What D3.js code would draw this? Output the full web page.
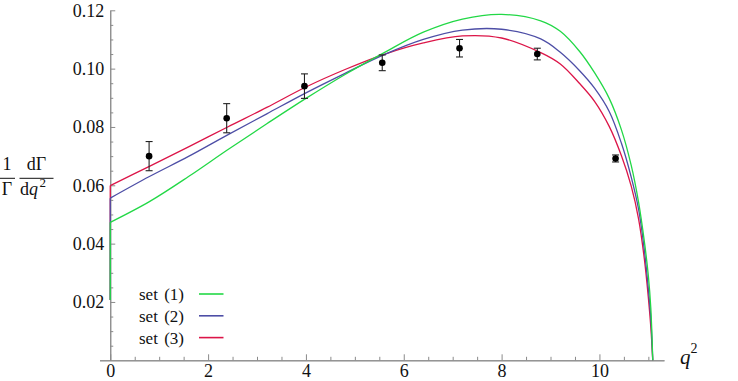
<!DOCTYPE html>
<html>
<head>
<meta charset="utf-8">
<script src="https://cdn.jsdelivr.net/npm/d3@7"></script>
<style>
  body { margin: 0; background: #fff; }
  svg { display: block; font-family: "Liberation Serif", "Times New Roman", serif; }
  svg text { font-family: "Liberation Serif", "Times New Roman", serif; }
</style>
</head>
<body>
<svg class="chart"></svg>
<script>
const width = 738;
const height = 381;

// curve samples (q^2, value)
const qGrid = [0, 0.8, 1.6, 2.4, 3.2, 4.0, 4.8, 5.6, 6.4, 7.2, 8.0, 8.8, 9.2, 9.6, 9.9, 10.2, 10.45, 10.65, 10.8, 10.92, 11.0, 11.05, 11.09];
const set1 = [0.0473, 0.0544, 0.0630, 0.0722, 0.0811, 0.0898, 0.0980, 0.1055, 0.1125, 0.1170, 0.1186, 0.1164, 0.1128, 0.1058, 0.0986, 0.0898, 0.0790, 0.0668, 0.0542, 0.0405, 0.0290, 0.0180, 0];
const set2 = [0.0556, 0.0630, 0.0699, 0.0773, 0.0845, 0.0917, 0.0984, 0.1048, 0.1100, 0.1132, 0.1135, 0.1102, 0.1056, 0.0992, 0.0933, 0.0853, 0.0744, 0.0628, 0.0518, 0.0375, 0.0245, 0.0145, 0];
const set3 = [0.0599, 0.0665, 0.0732, 0.0800, 0.0867, 0.0937, 0.0997, 0.1049, 0.1088, 0.1112, 0.1105, 0.1055, 0.1016, 0.0948, 0.0888, 0.0802, 0.0701, 0.0597, 0.0485, 0.0345, 0.0215, 0.0115, 0];
const dropTo = 0.0207; // curves fall along the axis at q^2 = 0

// data points with errors
const ptQ = [0.794, 2.38, 3.97, 5.56, 7.14, 8.73, 10.33];
const ptV = [0.070, 0.083, 0.094, 0.102, 0.107, 0.105, 0.0692];
const ptErr = [0.005, 0.005, 0.0042, 0.0027, 0.003, 0.002, 0.0012];

const xTicks = [0, 2, 4, 6, 8, 10];
const yTicks = [0.02, 0.04, 0.06, 0.08, 0.10, 0.12];
const legendLabels = ["set (1)", "set (2)", "set (3)"];
const colors = ["#22d846", "#4d4ea6", "#dc1548"];
const serif = '"Liberation Serif", "Times New Roman", serif';

const svg = d3.select('.chart').attr('width', width).attr('height', height);

const x = d3.scaleLinear().domain([-0.22, 11.32]).range([99.5, 664]);
const y = d3.scaleLinear().domain([0, 0.12]).range([360.3, 10.3]);

// axes
const xMinor = d3.range(0.5, 11.01, 0.5).filter(d => d % 2 !== 0);
const yMinor = d3.range(0.005, 0.1201, 0.005).filter(d => Math.abs(d / 0.02 - Math.round(d / 0.02)) > 1e-6);

function styleAxis(g) {
  g.attr('font-family', serif).attr('font-size', 18);
  g.selectAll('.domain').attr('stroke', '#8a8a8a');
  g.selectAll('.tick line').attr('stroke', '#8a8a8a');
  g.selectAll('.tick text').attr('fill', '#111');
}

svg.append('g')
  .attr('transform', `translate(0,${y(0)})`)
  .call(d3.axisBottom(x).tickValues(xMinor).tickSize(-3.5).tickSizeOuter(0).tickFormat(''))
  .call(styleAxis);
svg.append('g')
  .attr('transform', `translate(0,${y(0)})`)
  .call(d3.axisBottom(x).tickValues(xTicks).tickSize(-6).tickSizeOuter(0).tickPadding(4).tickFormat(d3.format('d')))
  .call(styleAxis);

svg.append('g')
  .attr('transform', `translate(${x(0)},0)`)
  .call(d3.axisLeft(y).tickValues(yMinor).tickSize(-3).tickSizeOuter(0).tickFormat(''))
  .call(styleAxis);
svg.append('g')
  .attr('transform', `translate(${x(0)},0)`)
  .call(d3.axisLeft(y).tickValues(yTicks).tickSize(-5).tickSizeOuter(0).tickPadding(6).tickFormat(d3.format('.2f')))
  .call(styleAxis);

// curves, drawn set 3 first so set 1 ends up on top
const line = d3.line()
  .x(d => x(d[0]))
  .y(d => y(d[1]))
  .curve(d3.curveCatmullRom.alpha(0.5));

const sets = [set1, set2, set3];
[2, 1, 0].forEach(i => {
  const pts = qGrid.map((q, j) => [q, sets[i][j]]);
  svg.append('path')
    .datum([[0, dropTo], [0, sets[i][0]]])
    .attr('d', d3.line().x(d => x(d[0])).y(d => y(d[1])))
    .attr('fill', 'none')
    .attr('stroke', colors[i])
    .attr('stroke-width', 1.3);
  svg.append('path')
    .datum(pts)
    .attr('d', line)
    .attr('fill', 'none')
    .attr('stroke', colors[i])
    .attr('stroke-width', 1.3);
});

// error bars and points
const pts = ptQ.map((q, i) => ({ q: q, v: ptV[i], e: ptErr[i] }));
const bars = svg.append('g').attr('stroke', '#222').attr('stroke-width', 1.1);
bars.selectAll('.eb')
  .data(pts)
  .enter()
  .append('line')
  .attr('x1', d => x(d.q)).attr('x2', d => x(d.q))
  .attr('y1', d => y(d.v - d.e)).attr('y2', d => y(d.v + d.e));
bars.selectAll('.capTop')
  .data(pts)
  .enter()
  .append('line')
  .attr('x1', d => x(d.q) - 3.5).attr('x2', d => x(d.q) + 3.5)
  .attr('y1', d => y(d.v + d.e)).attr('y2', d => y(d.v + d.e));
bars.selectAll('.capBot')
  .data(pts)
  .enter()
  .append('line')
  .attr('x1', d => x(d.q) - 3.5).attr('x2', d => x(d.q) + 3.5)
  .attr('y1', d => y(d.v - d.e)).attr('y2', d => y(d.v - d.e));
svg.append('g').selectAll('circle')
  .data(pts)
  .enter()
  .append('circle')
  .attr('cx', d => x(d.q))
  .attr('cy', d => y(d.v))
  .attr('r', 3.3)
  .attr('fill', '#000');

// legend
const legend = svg.append('g');
legendLabels.forEach((label, i) => {
  const ly = 294 + i * 21.8;
  legend.append('text')
    .attr('x', 139)
    .attr('y', ly)
    .attr('dy', '0.35em')
    .attr('font-family', serif)
    .style('font-size', '17px')
    .style('word-spacing', '2px')
    .attr('fill', '#111')
    .text(label);
  legend.append('line')
    .attr('x1', 199).attr('x2', 223.5)
    .attr('y1', ly).attr('y2', ly)
    .attr('stroke', colors[i])
    .attr('stroke-width', 1.6);
});

// axis labels
const xl = svg.append('text')
  .attr('x', 680)
  .attr('y', 364)
  .attr('font-family', serif)
  .style('font-size', '21px')
  .attr('fill', '#111');
xl.append('tspan').style('font-style', 'italic').text('q');
xl.append('tspan').attr('dy', -11).style('font-size', '14px').text('2');

const yl = svg.append('g').attr('fill', '#111').attr('font-family', serif).style('font-size', '18px');
yl.append('text').attr('x', 7).attr('y', 170).attr('text-anchor', 'middle').text('1');
yl.append('line').attr('x1', 0).attr('x2', 15).attr('y1', 178.3).attr('y2', 178.3)
  .attr('stroke', '#111').attr('stroke-width', 1);
yl.append('text').attr('x', 7).attr('y', 194.5).attr('text-anchor', 'middle').text('Γ');
yl.append('text').attr('x', 36.5).attr('y', 170).attr('text-anchor', 'middle').text('dΓ');
yl.append('line').attr('x1', 19.5).attr('x2', 53.5).attr('y1', 178.3).attr('y2', 178.3)
  .attr('stroke', '#111').attr('stroke-width', 1);
const den = yl.append('text').attr('x', 20).attr('y', 194.5);
den.append('tspan').text('d');
den.append('tspan').style('font-style', 'italic').text('q');
den.append('tspan').attr('dx', 1.5).attr('dy', -8).style('font-size', '13px').text('2');
</script>
</body>
</html>
